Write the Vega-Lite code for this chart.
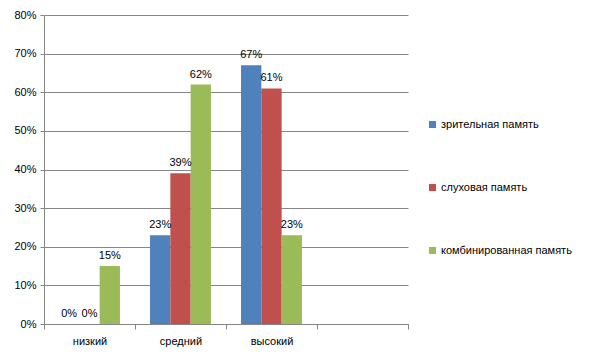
{
  "$schema": "https://vega.github.io/schema/vega-lite/v6.json",
  "width": 364,
  "height": 309,
  "autosize": "none",
  "padding": {"left": 44, "top": 15, "right": 193, "bottom": 34},
  "background": "white",
  "config": {"view": {"stroke": null}, "font": "Liberation Sans"},
  "data": {
    "values": [
      {"level": "низкий", "type": "зрительная память", "value": 0},
      {"level": "низкий", "type": "слуховая память", "value": 0},
      {"level": "низкий", "type": "комбинированная память", "value": 0.15},
      {"level": "средний", "type": "зрительная память", "value": 0.23},
      {"level": "средний", "type": "слуховая память", "value": 0.39},
      {"level": "средний", "type": "комбинированная память", "value": 0.62},
      {"level": "высокий", "type": "зрительная память", "value": 0.67},
      {"level": "высокий", "type": "слуховая память", "value": 0.61},
      {"level": "высокий", "type": "комбинированная память", "value": 0.23}
    ]
  },
  "encoding": {
    "x": {
      "field": "level",
      "type": "nominal",
      "scale": {"domain": ["низкий", "средний", "высокий", " "], "paddingInner": 0, "paddingOuter": 0},
      "axis": {
        "title": null,
        "labelAngle": 0,
        "tickBand": "extent",
        "labelFontSize": 11,
        "labelColor": "#000000",
        "labelPadding": 6,
        "domainColor": "#868686",
        "tickColor": "#868686",
        "tickSize": 5
      }
    },
    "xOffset": {
      "field": "type",
      "type": "nominal",
      "sort": ["зрительная память", "слуховая память", "комбинированная память"],
      "scale": {"paddingInner": 0, "paddingOuter": 0.74}
    },
    "y": {
      "field": "value",
      "type": "quantitative",
      "scale": {"domain": [0, 0.8], "nice": false},
      "axis": {
        "title": null,
        "format": ".0%",
        "values": [0, 0.1, 0.2, 0.3, 0.4, 0.5, 0.6, 0.7, 0.8],
        "labelFontSize": 11,
        "labelColor": "#000000",
        "labelPadding": 4,
        "gridColor": "#868686",
        "domainColor": "#868686",
        "tickColor": "#868686",
        "tickSize": 4
      }
    }
  },
  "layer": [
    {
      "mark": {"type": "bar"},
      "encoding": {
        "color": {
          "field": "type",
          "type": "nominal",
          "sort": ["зрительная память", "слуховая память", "комбинированная память"],
          "scale": {
            "domain": ["зрительная память", "слуховая память", "комбинированная память"],
            "range": ["#4F81BD", "#C0504D", "#9BBB59"]
          },
          "legend": {
            "title": null,
            "orient": "none",
            "legendX": 383,
            "legendY": 104,
            "symbolType": "square",
            "symbolSize": 50,
            "symbolStrokeWidth": 0,
            "labelFontSize": 11,
            "labelColor": "#000000",
            "labelOffset": 3,
            "rowPadding": 51
          }
        }
      }
    },
    {
      "mark": {"type": "text", "baseline": "bottom", "dy": -5, "fontSize": 11, "color": "#000000"},
      "encoding": {
        "text": {"field": "value", "type": "quantitative", "format": ".0%"}
      }
    }
  ]
}
